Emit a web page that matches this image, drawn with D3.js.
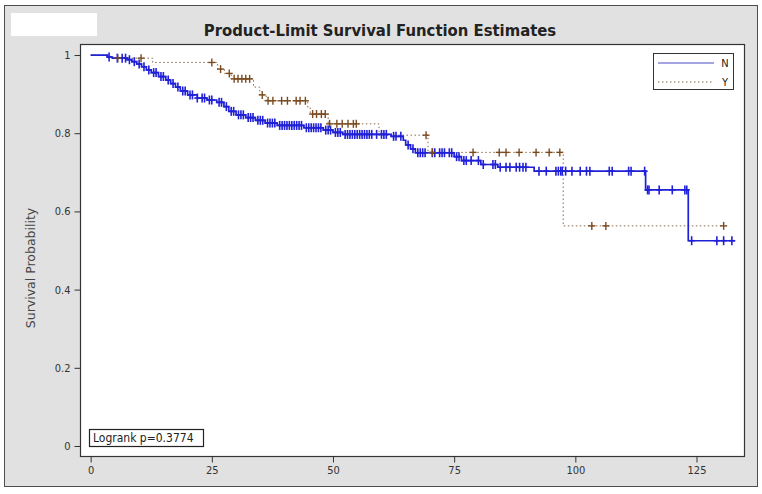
<!DOCTYPE html>
<html>
<head>
<meta charset="utf-8">
<script src="https://cdn.jsdelivr.net/npm/d3@7"></script>
<style>
  html, body { margin: 0; padding: 0; background: #ffffff; }
  svg { display: block; }
</style>
</head>
<body>
<svg id="chart" width="762" height="494"></svg>
<script>
// ---------------- data ----------------
const titleText = "Product-Limit Survival Function Estimates";
const yAxisLabel = "Survival Probability";
const xTickValues = [0, 25, 50, 75, 100, 125];
const yTickValues = [0, 0.2, 0.4, 0.6, 0.8, 1];
const yTickLabels = ["0", "0.2", "0.4", "0.6", "0.8", "1"];
const groupNames = ["N", "Y"];
const logrankText = "Logrank p=0.3774";

// group N (solid blue): event times and survival after each event
const nEventTimes = [3.5, 4.5, 7.5, 8.5, 9.5, 10.5, 11.5, 12.5, 14, 15.5, 16.5, 17.5, 18.5, 20, 22, 24, 26, 27.5, 28.5, 30, 32, 34, 36, 38.5, 44, 48, 50, 52, 62, 64.5, 65, 66, 67, 75, 76.5, 80.5, 84, 91.5, 114.5, 123.3];
const nEventSurv  = [0.995, 0.992, 0.988, 0.983, 0.977, 0.970, 0.962, 0.955, 0.945, 0.936, 0.927, 0.918, 0.908, 0.898, 0.890, 0.885, 0.879, 0.868, 0.856, 0.847, 0.840, 0.833, 0.826, 0.820, 0.814, 0.808, 0.802, 0.797, 0.792, 0.782, 0.770, 0.760, 0.750, 0.740, 0.730, 0.720, 0.713, 0.703, 0.655, 0.525];
const nEndTime = 133;
const nCensorTimes = [3.8, 5.5, 6.5, 7.2, 8, 9, 10, 11, 12, 13, 13.5, 14.5, 15, 16, 17, 18, 19, 19.5, 20.5, 21, 22, 23, 23.5, 24.5, 25, 26.5, 27, 28, 29, 29.5,
  30.5, 31, 31.5, 32.5, 33, 33.5, 34.5, 35, 35.5, 36.5, 37, 37.5, 38, 39, 39.5, 40, 40.5, 41, 41.5, 42, 42.5, 43, 43.5, 44.5, 45, 45.5, 46, 46.5, 47, 47.5, 48.5, 49, 49.5, 50.5, 51, 51.5, 52.5, 53, 53.5, 54, 54.5, 55, 55.5, 56, 56.5, 57, 57.5, 58, 59, 60, 60.5, 61, 62.5, 63, 64, 65.5,
  66.5, 67.5, 68, 68.5, 69, 70.5, 71, 72, 72.5, 73, 74, 74.5, 75.5, 76, 77, 77.5, 78.5, 80, 81, 83, 83.5, 84.5, 85.7, 86.5, 87.8, 88.5, 89.2, 89.8, 92.5, 94, 96, 96.5, 97, 97.3, 98, 99.3,
  101, 102.3, 103, 107, 107.6, 111, 111.5, 114.3, 114.9, 115.2, 117.3, 120, 122.6, 123, 124, 129.2, 130.6, 132.3];

// group Y (dotted brown)
const yEventTimes = [4.0, 12.8, 26.2, 27.6, 29.0, 33.6, 34.9, 36.2, 44.8, 45.3, 49.0, 59.5, 69.6, 97.5];
const yEventSurv  = [0.992, 0.981, 0.964, 0.953, 0.939, 0.918, 0.898, 0.883, 0.866, 0.849, 0.824, 0.795, 0.751, 0.563];
const yEndTime = 130.6;
const yCensorTimes = [5.6, 10.4, 25, 26.8, 28.6, 29.6, 30.4, 31.2, 32, 32.8, 35.4, 36.6, 37.6, 39.4, 40.6, 42.4, 43.2, 44.3, 45.8, 46.6, 47.6, 48.4, 49.3, 50.8, 51.9, 53.1, 54.2, 54.8, 69.2, 70.5, 78.9, 84.3, 85.7, 88.4, 91.9, 94.6, 96.8, 103.4, 106.3, 130.6];

// ---------------- drawing ----------------
const svg = d3.select("#chart");
const plot = { left: 80, top: 44, right: 744, bottom: 456 };
const blue = "#2020d8";
const brown = "#7a4a1e";
const fontCond = "'DejaVu Sans Condensed', 'Liberation Sans Narrow', 'DejaVu Sans', sans-serif";

// outer grey frame
svg.append("rect").attr("x", 4.5).attr("y", 5.5).attr("width", 753).attr("height", 481)
  .attr("fill", "#e1e1e1").attr("stroke", "#4d4d4d").attr("stroke-width", 1);
// white patch at top-left
svg.append("rect").attr("x", 11).attr("y", 13).attr("width", 86).attr("height", 23).attr("fill", "#ffffff");

// title
svg.append("text").attr("x", 380).attr("y", 36).attr("text-anchor", "middle")
  .attr("font-family", fontCond).attr("font-weight", "bold").attr("font-size", 16.5)
  .attr("fill", "#222").text(titleText);

// plot area
svg.append("rect").attr("x", plot.left + 0.5).attr("y", plot.top + 0.5)
  .attr("width", plot.right - plot.left).attr("height", plot.bottom - plot.top)
  .attr("fill", "#ffffff").attr("stroke", "#333").attr("stroke-width", 1.2);

const x = d3.scaleLinear().domain([-2.2, 134.8]).range([plot.left, plot.right]);
const y = d3.scaleLinear().domain([-0.0256, 1.0282]).range([plot.bottom, plot.top]);

// axes
const xAxis = d3.axisBottom(x).tickValues(xTickValues).tickSize(6).tickPadding(4).tickSizeOuter(0);
const gx = svg.append("g").attr("transform", `translate(0,${plot.bottom + 0.5})`).call(xAxis);
gx.select(".domain").remove();
gx.selectAll("line").attr("stroke", "#333");
gx.selectAll("text").attr("font-family", fontCond).attr("font-size", 11).attr("fill", "#333");

const yAxis = d3.axisLeft(y).tickValues(yTickValues).tickFormat((d, i) => yTickLabels[i]).tickSize(6).tickPadding(4);
const gy = svg.append("g").attr("transform", `translate(${plot.left + 0.5},0)`).call(yAxis);
gy.select(".domain").remove();
gy.selectAll("line").attr("stroke", "#333");
gy.selectAll("text").attr("font-family", fontCond).attr("font-size", 11).attr("fill", "#333");

// y label
svg.append("text").attr("transform", "translate(35,268) rotate(-90)").attr("text-anchor", "middle")
  .attr("font-family", "'DejaVu Sans', sans-serif").attr("font-size", 12.5).attr("fill", "#444")
  .text(yAxisLabel);

// step curve helpers
function stepPoints(times, surv, endT) {
  const pts = [[0, 1]];
  times.forEach((t, i) => pts.push([t, surv[i]]));
  pts.push([endT, surv[surv.length - 1]]);
  return pts;
}
function survAt(times, surv, t) {
  let s = 1;
  for (let i = 0; i < times.length; i++) { if (times[i] <= t) s = surv[i]; }
  return s;
}
const line = d3.line().x(d => x(d[0])).y(d => y(d[1])).curve(d3.curveStepAfter);

const clip = svg.append("g");

// Y group: dotted
clip.append("path").datum(stepPoints(yEventTimes, yEventSurv, yEndTime))
  .attr("d", line).attr("fill", "none").attr("stroke", "#8a6a4a")
  .attr("stroke-width", 1).attr("stroke-dasharray", "1.5,2.5");

// N group: solid
clip.append("path").datum(stepPoints(nEventTimes, nEventSurv, nEndTime))
  .attr("d", line).attr("fill", "none").attr("stroke", blue).attr("stroke-width", 1.7);

function censorMarks(times, evT, evS, color, hw, hh, sw) {
  const g = clip.append("g").attr("stroke", color).attr("stroke-width", sw);
  times.forEach(t => {
    const cx = x(t), cy = y(survAt(evT, evS, t));
    g.append("line").attr("x1", cx - hw).attr("x2", cx + hw).attr("y1", cy).attr("y2", cy);
    g.append("line").attr("x1", cx).attr("x2", cx).attr("y1", cy - hh).attr("y2", cy + hh);
  });
}
censorMarks(nCensorTimes, nEventTimes, nEventSurv, blue, 3, 4.5, 1.6);
censorMarks(yCensorTimes, yEventTimes, yEventSurv, brown, 3.5, 4, 1.4);

// legend
const lg = svg.append("g");
lg.append("rect").attr("x", 653.5).attr("y", 53.5).attr("width", 80).attr("height", 36)
  .attr("fill", "#fff").attr("stroke", "#333").attr("stroke-width", 1);
lg.append("line").attr("x1", 658).attr("x2", 714).attr("y1", 63).attr("y2", 63)
  .attr("stroke", "#4a4ac8").attr("stroke-width", 1.2);
lg.append("line").attr("x1", 658).attr("x2", 714).attr("y1", 82).attr("y2", 82)
  .attr("stroke", "#8a6a4a").attr("stroke-width", 1).attr("stroke-dasharray", "1.5,2.5");
lg.selectAll("text.lab").data(groupNames).enter().append("text").attr("class", "lab")
  .attr("x", 725).attr("y", (d, i) => 67 + i * 19).attr("text-anchor", "middle")
  .attr("font-family", fontCond).attr("font-size", 11).attr("fill", "#222").text(d => d);

// logrank box
svg.append("rect").attr("x", 89.5).attr("y", 429.5).attr("width", 114).attr("height", 17)
  .attr("fill", "#fff").attr("stroke", "#222").attr("stroke-width", 1.2);
svg.append("text").attr("x", 93).attr("y", 442).attr("font-family", fontCond)
  .attr("font-size", 12).attr("fill", "#222").text(logrankText);
</script>
</body>
</html>
